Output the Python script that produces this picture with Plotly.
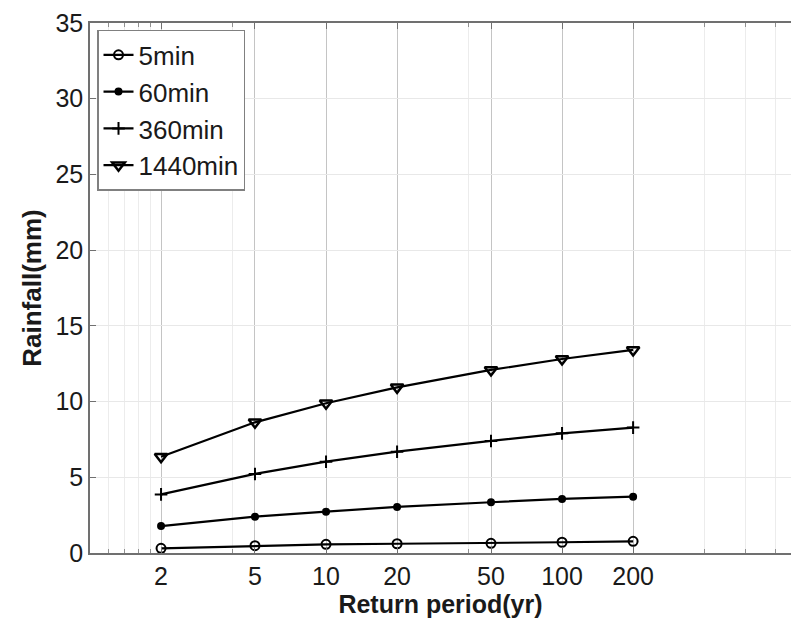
import plotly.graph_objects as go

return_period = [2, 5, 10, 20, 50, 100, 200]
rain_5min = [0.31, 0.48, 0.57, 0.61, 0.64, 0.71, 0.77]
rain_60min = [1.78, 2.40, 2.73, 3.04, 3.35, 3.57, 3.72]
rain_360min = [3.87, 5.22, 6.03, 6.69, 7.40, 7.90, 8.28]
rain_1440min = [6.36, 8.63, 9.89, 10.94, 12.09, 12.81, 13.41]

series_names = ["5min", "60min", "360min", "1440min"]
x_ticks = [2, 5, 10, 20, 50, 100, 200]
x_minor = [1.2, 1.4, 1.6, 1.8, 4, 40, 400, 600, 800]
y_ticks = [0, 5, 10, 15, 20, 25, 30, 35]

FONT = "Liberation Sans, Arial, sans-serif"

styles = [
    dict(symbol="circle-open", size=9, line=dict(width=2, color="black"), color="black"),
    dict(symbol="circle", size=8, color="black"),
    dict(symbol="cross-thin-open", size=9, line=dict(width=2, color="black"), color="black"),
    dict(symbol="triangle-down-open", size=11, line=dict(width=2.5, color="black"), color="black"),
]

fig = go.Figure()
for name, vals, mk in zip(series_names, [rain_5min, rain_60min, rain_360min, rain_1440min], styles):
    fig.add_trace(go.Scatter(
        x=return_period, y=vals, name=name, mode="lines+markers",
        line=dict(color="black", width=2.2), marker=mk,
    ))

fig.update_layout(
    width=791, height=618,
    margin=dict(l=90, r=0, t=23, b=65),
    plot_bgcolor="white", paper_bgcolor="white",
    font=dict(family=FONT, color="#1a1a1a", size=25),
    showlegend=True,
    legend=dict(
        x=0.01, y=0.987, xanchor="left", yanchor="top",
        bgcolor="white", bordercolor="#808080", borderwidth=1.5,
        font=dict(size=26, family=FONT, color="#1a1a1a"),
        tracegroupgap=0, itemwidth=30,
    ),
    xaxis=dict(
        type="log", range=[0, 2.97],
        tickmode="array", tickvals=x_ticks, ticktext=[str(v) for v in x_ticks],
        showgrid=True, gridcolor="#c4c4c4", gridwidth=1,
        showline=True, linecolor="#707070", linewidth=1.5, mirror="ticks",
        ticks="inside", ticklen=6, tickcolor="#707070",
        tickfont=dict(size=25, family=FONT, color="#1a1a1a"),
        title=dict(text="<b>Return period(yr)</b>", font=dict(size=25, family=FONT, color="#1a1a1a"), standoff=2),
        minor=dict(tickmode="array", tickvals=x_minor, showgrid=True, gridcolor="#ececec",
                   ticks="inside", ticklen=4, tickcolor="#909090"),
        zeroline=False,
    ),
    yaxis=dict(
        range=[0, 35], tickmode="array", tickvals=y_ticks,
        showgrid=True, gridcolor="#e8e8e8", gridwidth=1,
        showline=True, linecolor="#707070", linewidth=1.5, mirror=False,
        ticks="inside", ticklen=6, tickcolor="#707070",
        tickfont=dict(size=25, family=FONT, color="#1a1a1a"),
        title=dict(text="<b>Rainfall(mm)</b>", font=dict(size=26, family=FONT, color="#1a1a1a"), standoff=6),
        zeroline=False,
    ),
)

fig.add_annotation(
    text="<b>NSW</b>", xref="paper", yref="paper", x=0.5, y=1.0, yshift=16,
    xanchor="center", yanchor="bottom", showarrow=False,
    font=dict(size=22, family=FONT, color="#1a1a1a"),
)

fig.write_html("out.html")
